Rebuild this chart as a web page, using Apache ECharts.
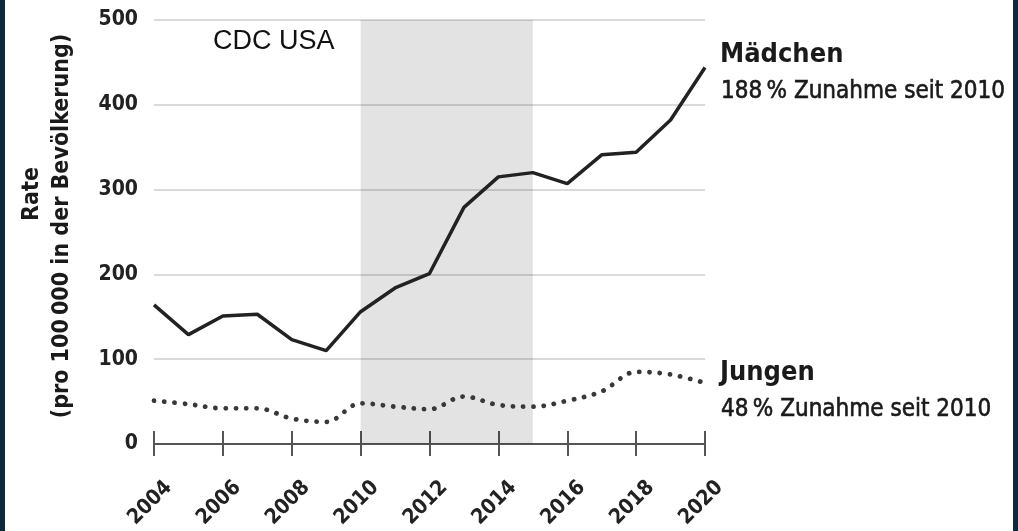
<!DOCTYPE html>
<html><head><meta charset="utf-8">
<script src="https://cdn.jsdelivr.net/npm/echarts@6/dist/echarts.min.js"></script>
<style>html,body{margin:0;padding:0;background:#fff}#c{width:1018px;height:531px}</style>
</head><body><div id="c"></div>
<script>
const years = [2004,2005,2006,2007,2008,2009,2010,2011,2012,2013,2014,2015,2016,2017,2018,2019,2020];
const maedchen = [164,129,151,153,123,110,156,184,201,279,315,320,307,341,344,382,444];
const jungen = [51,47,42,42,30,26,48,44,41,56,46,44,51,62,85,82,72];
const bandYears = [2010, 2015];
const yMin = 0, yMax = 500, yStep = 100;
const xMin = 2004, xMax = 2020, xStep = 2;
const labelsRight = [
  {name: 'Mädchen', note: '188\u2009% Zunahme seit 2010'},
  {name: 'Jungen', note: '48\u2009% Zunahme seit 2010'}
];
const yTitle = ['Rate', '(pro 100\u2009000 in der Bevölkerung)'];
const sourceText = 'CDC USA';

const FONT = '"DejaVu Sans Condensed","DejaVu Sans",sans-serif';
const chart = echarts.init(document.getElementById('c'), null, {renderer: 'canvas'});
const axisColor = '#555';
const xBase = {
  type: 'value', min: xMin, max: xMax, interval: xStep,
  splitLine: {show: false}
};
const txt = (x, y, text, size, bold, extra) => Object.assign({
  type: 'text', x: x, y: y, z: 100,
  style: Object.assign({text: text, fontFamily: FONT, fontWeight: bold ? 'bold' : 'normal', fontSize: size,
    fill: '#1a1a1a', align: 'left', verticalAlign: 'middle'}, extra || {})
});
chart.setOption({
  animation: false,
  backgroundColor: '#fff',
  grid: {left: 154, right: 313, top: 20, bottom: 81, containLabel: false},
  xAxis: [
    Object.assign({}, xBase, {
      position: 'bottom',
      axisLine: {show: true, lineStyle: {color: axisColor, width: 2}},
      axisTick: {show: true, length: 12, lineStyle: {color: axisColor, width: 2}},
      axisLabel: {
        rotate: 45, align: 'center', verticalAlign: 'middle', margin: 55,
        padding: [0, 11, 11, 0],
        fontFamily: FONT, fontWeight: 'bold', fontSize: 21, color: '#222',
        formatter: v => String(v)
      }
    }),
    Object.assign({}, xBase, {
      position: 'bottom', offset: 0,
      axisLine: {show: false},
      axisTick: {show: true, inside: true, length: 13, lineStyle: {color: axisColor, width: 2}},
      axisLabel: {show: false}
    })
  ],
  yAxis: {
    type: 'value', min: yMin, max: yMax, interval: yStep,
    axisLine: {show: false}, axisTick: {show: false},
    axisLabel: {margin: 16, fontFamily: FONT, fontWeight: 'bold', fontSize: 21, color: '#222'},
    splitLine: {lineStyle: {color: '#dadada', width: 2}}
  },
  series: [
    {
      name: labelsRight[0].name, type: 'line', xAxisIndex: 0,
      data: years.map((y, i) => [y, maedchen[i]]),
      symbol: 'none', smooth: false,
      lineStyle: {color: '#222', width: 3.5},
      markArea: {
        silent: true,
        itemStyle: {color: 'rgba(0,0,0,0.11)'},
        data: [[{xAxis: bandYears[0], yAxis: yMax}, {xAxis: bandYears[1], yAxis: yMin}]]
      },
      z: 3
    },
    {
      name: labelsRight[1].name, type: 'line', xAxisIndex: 0,
      data: years.map((y, i) => [y, jungen[i]]),
      symbol: 'none', smooth: 0.35,
      lineStyle: {color: '#383838', width: 4.8, type: [0.1, 10.2], cap: 'round'},
      z: 3
    }
  ],
  graphic: [
    {type: 'rect', shape: {x: 0, y: 0, width: 5, height: 531}, style: {fill: '#0c2a3c'}, z: 100},
    {type: 'rect', shape: {x: 1013, y: 0, width: 5, height: 531}, style: {fill: '#0c2a3c'}, z: 100},
    {type: 'text', x: 213, y: 42, z: 100, style: {text: sourceText, fontFamily: '"Liberation Sans",Arial,sans-serif', fontSize: 27, fill: '#111', align: 'left', verticalAlign: 'middle'}},
    txt(720, 55, labelsRight[0].name, 27, true),
    txt(721, 92, labelsRight[0].note, 24, false, {stroke: '#1a1a1a', lineWidth: 0.6}),
    txt(720, 373, labelsRight[1].name, 27, true),
    txt(721, 410, labelsRight[1].note, 24, false, {stroke: '#1a1a1a', lineWidth: 0.6}),
    Object.assign(txt(32, 194, yTitle[0], 23, true, {align: 'center'}), {rotation: Math.PI / 2}),
    Object.assign(txt(62, 226, yTitle[1], 23, true, {align: 'center'}), {rotation: Math.PI / 2})
  ]
});
</script></body></html>
